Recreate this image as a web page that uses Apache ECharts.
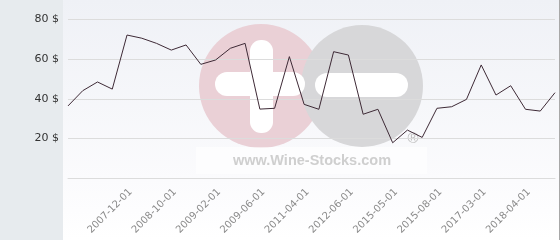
<!DOCTYPE html>
<html>
<head>
<meta charset="utf-8">
<script src="https://cdn.jsdelivr.net/npm/echarts@6/dist/echarts.min.js"></script>
<style>
html,body{margin:0;padding:0;background:#ffffff;}
#chart{width:560px;height:240px;}
</style>
</head>
<body>
<div id="chart"></div>
<script>
// Categories (dates); labelled ones, others estimated
var dates = [
  '2006-10-01','2007-02-01','2007-06-01','2007-09-01','2007-12-01',
  '2008-03-01','2008-06-01','2008-10-01','2008-11-01','2008-12-01',
  '2009-02-01','2009-03-01','2009-04-01','2009-06-01','2010-01-01',
  '2010-09-01','2011-04-01','2011-09-01','2012-02-01','2012-06-01',
  '2013-04-01','2014-03-01','2015-05-01','2015-06-01','2015-07-01',
  '2015-08-01','2016-02-01','2016-09-01','2017-03-01','2017-07-01',
  '2017-11-01','2018-04-01','2018-09-01','2019-02-01'
];
// Price values ($)
var prices = [
  36.4, 44.1, 48.5, 44.9, 72.2, 70.6, 68.0, 64.6, 67.2, 57.4,
  59.6, 65.5, 68.0, 34.8, 35.2, 61.3, 37.2, 34.7, 63.8, 62.1,
  32.2, 34.7, 17.8, 24.2, 20.5, 35.2, 36.0, 39.7, 57.1, 41.9,
  46.6, 34.7, 33.8, 43.1
];
var yTicks = [0, 20, 40, 60, 80];
var yUnit = ' $';
var watermarkText = 'www.Wine-Stocks.com';

var chart = echarts.init(document.getElementById('chart'), null, {renderer: 'canvas'});
chart.setOption({
  animation: false,
  backgroundColor: '#ffffff',
  grid: {left: 68, right: 5, top: 19.6, bottom: 62, containLabel: false},
  graphic: [
    {type: 'rect', z: -100, silent: true, shape: {x: 0, y: 0, width: 63, height: 240}, style: {fill: '#e7ebee'}},
    {type: 'rect', z: -100, silent: true, shape: {x: 63, y: 0, width: 497, height: 240},
      style: {fill: new echarts.graphic.LinearGradient(0, 0, 0, 1, [
        {offset: 0, color: '#eff1f6'}, {offset: 0.75, color: '#fbfbfd'}, {offset: 1, color: '#ffffff'}])}},
    {type: 'line', z: 50, silent: true, shape: {x1: 559.5, y1: 0, x2: 559.5, y2: 240}, style: {stroke: '#a8a8a8', lineWidth: 1}},
    {type: 'circle', z: -50, silent: true, shape: {cx: 261, cy: 86, r: 62}, style: {fill: '#ead0d6'}},
    {type: 'circle', z: -49, silent: true, shape: {cx: 362, cy: 86, r: 61}, style: {fill: '#d7d7d9'}},
    {type: 'rect', z: -48, silent: true, shape: {x: 250, y: 40, width: 23, height: 93, r: 11}, style: {fill: '#ffffff'}},
    {type: 'rect', z: -48, silent: true, shape: {x: 215, y: 72, width: 90, height: 24, r: 12}, style: {fill: '#ffffff'}},
    {type: 'rect', z: -48, silent: true, shape: {x: 315, y: 73, width: 93, height: 24, r: 12}, style: {fill: '#ffffff'}},
    {type: 'rect', z: -47, silent: true, shape: {x: 196, y: 147, width: 231, height: 27}, style: {fill: 'rgba(255,255,255,0.6)'}},
    {type: 'text', z: -46, silent: true, x: 312, y: 161,
      style: {text: watermarkText, fill: '#cfcfcf', font: 'bold 14.5px "Liberation Sans", Arial, sans-serif', align: 'center', verticalAlign: 'middle'}},
    {type: 'text', z: -46, silent: true, x: 413, y: 139,
      style: {text: '\u00AE', fill: '#bdbdbd', font: '15px "Liberation Sans", Arial, sans-serif', align: 'center', verticalAlign: 'middle'}}
  ],
  xAxis: {
    type: 'category',
    data: dates,
    boundaryGap: false,
    axisLine: {show: true, lineStyle: {color: '#dcdcdc', width: 1}},
    axisTick: {show: false},
    splitLine: {show: false},
    axisLabel: {
      rotate: 45,
      margin: 9,
      verticalAlign: 'top',
      color: '#8a8a8a',
      fontSize: 10,
      fontFamily: '"DejaVu Sans", sans-serif',
      interval: function (i) { return i >= 4 && i % 3 === 1; }
    }
  },
  yAxis: {
    type: 'value',
    min: yTicks[0],
    max: yTicks[yTicks.length - 1],
    interval: yTicks[1] - yTicks[0],
    axisLine: {show: false},
    axisTick: {show: false},
    splitLine: {show: true, lineStyle: {color: '#dcdcdc', width: 1}},
    axisLabel: {
      showMinLabel: false,
      margin: 9,
      color: '#333333',
      fontSize: 11,
      fontFamily: '"DejaVu Sans", sans-serif',
      formatter: function (v) { return v + yUnit; }
    }
  },
  series: [{
    type: 'line',
    data: prices,
    symbol: 'none',
    z: 10,
    lineStyle: {color: '#3e2a36', width: 1}
  }]
});
</script>
</body>
</html>
